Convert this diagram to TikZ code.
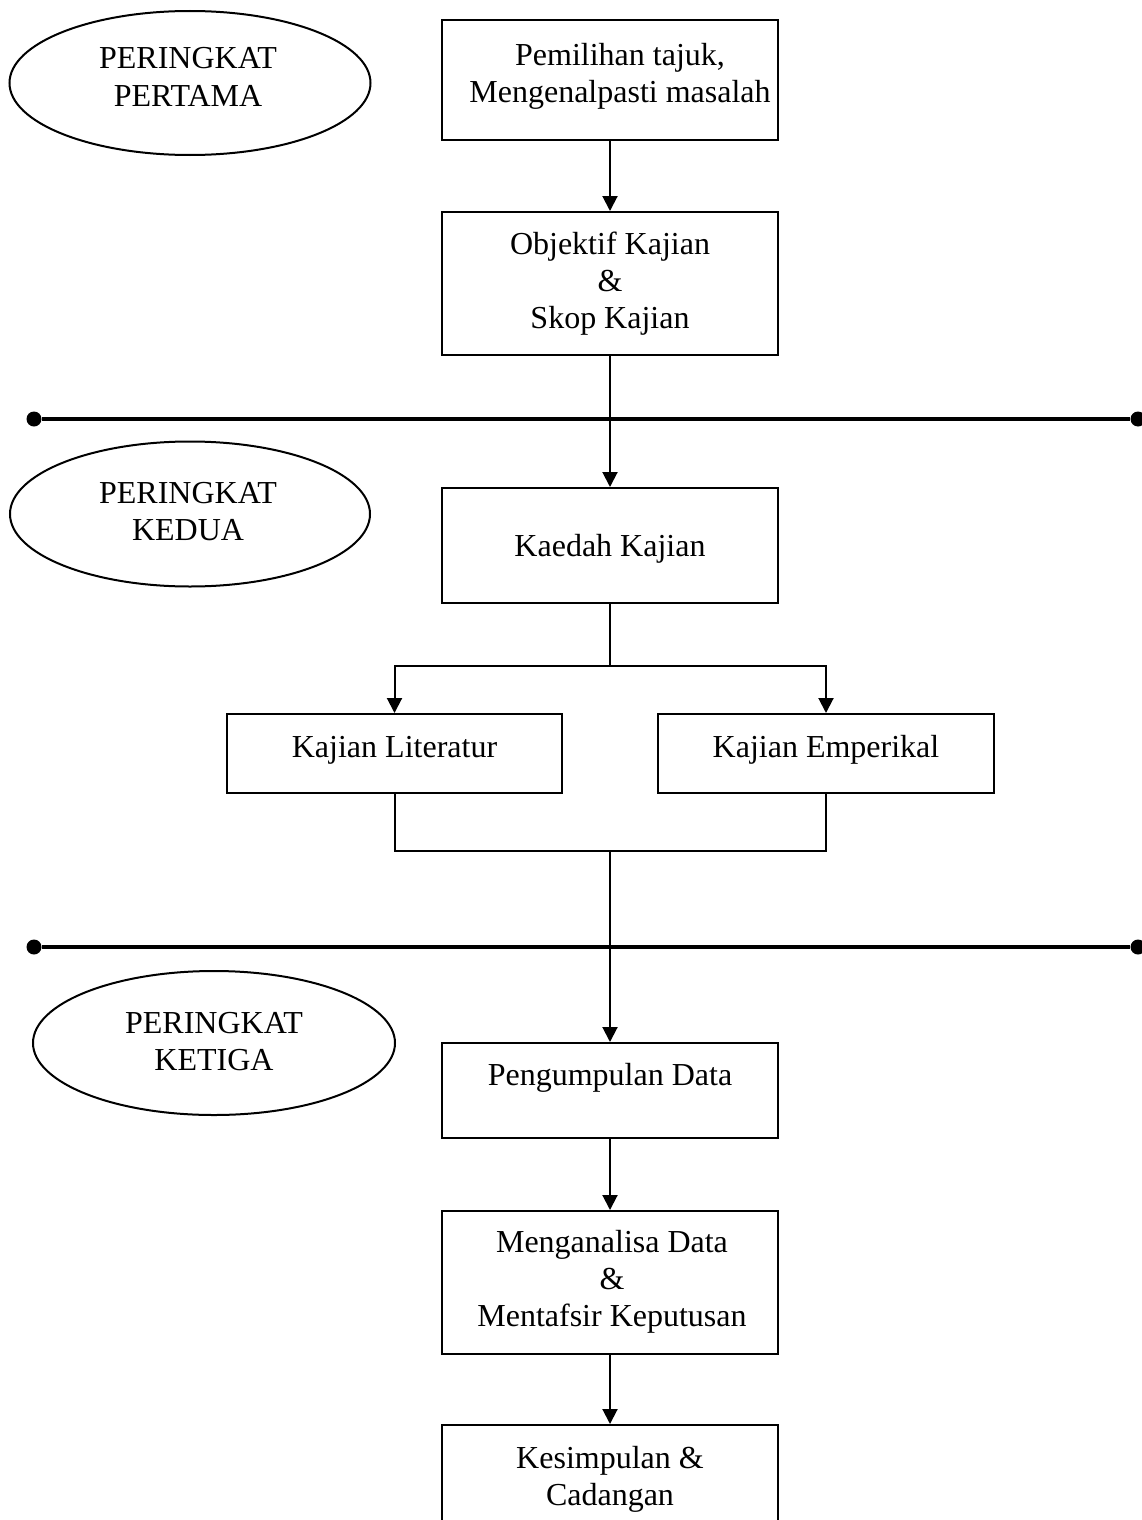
\documentclass[tikz,border=0pt]{standalone}
\usepackage{fontspec}
\setmainfont{Liberation Serif}
\usetikzlibrary{arrows.meta,shapes.geometric}
\newcommand\mlines[1]{\begin{tabular}[t]{@{}c@{}}#1\end{tabular}}
\begin{document}
\begin{tikzpicture}[x=1pt,y=-1pt,
  box/.style={draw, line width=2pt, rectangle, inner sep=0pt, minimum width=336pt},
  oval/.style={draw, line width=2pt, ellipse, inner sep=0pt},
  txt/.style={anchor=base, inner sep=0pt, font=\fontsize{32}{37}\selectfont},
  conn/.style={line width=2pt},
  arr/.style={conn, -{Triangle[length=15pt,width=15pt]}},
  sepline/.style={line width=4pt},
  dotend/.style={circle, fill, inner sep=0pt, minimum size=15pt}]
\useasboundingbox (0,0) rectangle (1142,1520);

% ellipses
\node[oval, minimum width=361pt, minimum height=144pt] (e1) at (190,83) {};
\node[txt] (e1t) at (188,69) {\mlines{PERINGKAT\\PERTAMA}};
\node[oval, minimum width=360pt, minimum height=145pt] (e2) at (190,514) {};
\node[txt] (e2t) at (188,503) {\mlines{PERINGKAT\\KEDUA}};
\node[oval, minimum width=362pt, minimum height=144pt] (e3) at (214,1043) {};
\node[txt] (e3t) at (214,1033) {\mlines{PERINGKAT\\KETIGA}};

% separator lines
\node[dotend] (d1a) at (34,419) {};
\node[dotend] (d1b) at (1138,419) {};
\draw[sepline] (d1a) -- (d1b);
\node[dotend] (d2a) at (34,947) {};
\node[dotend] (d2b) at (1138,947) {};
\draw[sepline] (d2a) -- (d2b);

% boxes
\node[box, minimum height=120pt] (b1) at (610,80) {};
\node[txt] (b1t) at (620,66) {\mlines{Pemilihan tajuk,\\Mengenalpasti masalah}};
\node[box, minimum height=143pt] (b2) at (610,283.5) {};
\node[txt] (b2t) at (610,254) {\mlines{Objektif Kajian\\\&\\Skop Kajian}};
\node[box, minimum height=115pt] (b3) at (610,545.5) {};
\node[txt] (b3t) at (610,556) {Kaedah Kajian};
\node[box, minimum width=335pt, minimum height=79pt] (lit) at (394.5,753.5) {};
\node[txt] (litt) at (394.5,757) {Kajian Literatur};
\node[box, minimum height=79pt] (emp) at (826,753.5) {};
\node[txt] (empt) at (826,757) {Kajian Emperikal};
\node[box, minimum height=95pt] (peng) at (610,1090.5) {};
\node[txt] (pengt) at (610,1085) {Pengumpulan Data};
\node[box, minimum height=143pt] (mang) at (610,1282.5) {};
\node[txt] (mangt) at (612,1252) {\mlines{Menganalisa Data\\\&\\Mentafsir Keputusan}};
\node[box, minimum height=115pt] (kes) at (610,1482.5) {};
\node[txt] (kest) at (610,1468) {\mlines{Kesimpulan \&\\Cadangan}};

% connectors
\draw[arr] (b1) -- (b2);
\draw[arr] (b2) -- (b3);
\draw[conn] (b3.south) -- (610,666) coordinate (br);
\draw[arr] (br) -| (lit.north);
\draw[arr] (br) -| (emp.north);
\coordinate (jn) at (610,851);
\draw[conn] (lit.south) |- (jn) -| (emp.south);
\draw[arr] (jn) -- (peng.north);
\draw[arr] (peng) -- (mang);
\draw[arr] (mang) -- (kes);
\end{tikzpicture}
\end{document}
